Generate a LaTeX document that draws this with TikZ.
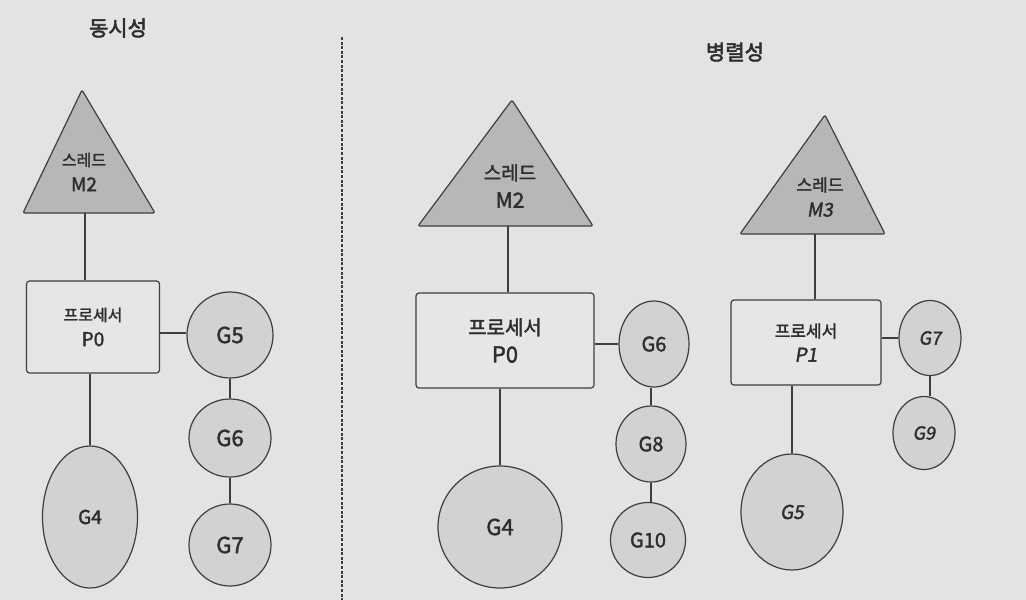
\documentclass[tikz,border=0pt]{standalone}
\usepackage{fontspec}
\setmainfont{Noto Sans CJK KR}[FakeBold=1.8]
\newfontfamily\slfont{Noto Sans CJK KR}[FakeBold=1.8,FakeSlant=0.16]
\newfontfamily\ttlfont{Noto Sans CJK KR}[FakeBold=2.6]
\usetikzlibrary{shapes.geometric,calc}
\definecolor{bgc}{HTML}{E4E2E2}
\definecolor{trifill}{HTML}{B8B7B7}
\definecolor{gfill}{HTML}{D3D2D2}
\definecolor{pfill}{HTML}{E7E6E6}
\definecolor{ink}{HTML}{3E3E3E}
\definecolor{txt}{HTML}{2E2E2E}
\newcommand{\fs}[1]{\fontsize{#1}{#1}\selectfont}
\tikzset{
  link/.style={draw=ink, line width=1.2pt},
  tri/.style={draw=ink, line width=1.2pt, fill=trifill, rounded corners=2pt},
  procbox/.style={draw=ink, line width=1.2pt, fill=pfill, rounded corners=3pt,
    rectangle, inner sep=0pt, align=center, text=txt},
  gor/.style={ellipse, draw=ink, line width=1.2pt, fill=gfill, inner sep=0pt,
    text=txt, font=\fs{#1}},
  lbl/.style={text=txt, align=center},
  ttl/.style={text=txt, font=\fs{21}\ttlfont},
}
\begin{document}
\begin{tikzpicture}[x=1pt,y=-1pt]
\useasboundingbox (0,0) rectangle (1026,600);
\fill[bgc] (0,0) rectangle (1026,600);

% titles
\node[ttl] (t1) at (118,28) {동시성};
\node[ttl] (t2) at (735,52) {병렬성};

% divider
\coordinate (dtop) at (342,37);
\coordinate (dbot) at (342,600);
\draw[ink, line width=1.1pt, dash pattern=on 3pt off 1.6pt] (dtop) -- (dbot);

% ===== left: concurrency =====
\draw[tri] (82,90) -- (155,213) -- (23,213) -- cycle;
\node[lbl] (m2a) at (84,172) {\fs{16}스레드\\[9pt]\fs{19}M2};
\coordinate (m2abase) at (85,213);
\node[procbox, minimum width=133pt, minimum height=92pt] (p0a) at (93,327) {\fs{16}프로세서\\[9pt]\fs{19}P0};
\node[gor=22, minimum width=86pt, minimum height=86pt] (g5a) at (230,335) {G5};
\node[gor=22, minimum width=82pt, minimum height=78pt] (g6a) at (230,438) {G6};
\node[gor=22, minimum width=82pt, minimum height=82pt] (g7a) at (230,545) {G7};
\node[gor=19, minimum width=95pt, minimum height=142pt] (g4a) at (90,517) {G4};
\draw[link] (m2abase) -- (m2abase |- p0a.north);
\draw[link] (p0a.east |- 0,333) -- (g5a.west |- 0,333);
\draw[link] (g5a.south) -- (g6a.north);
\draw[link] (g6a.south) -- (g7a.north);
\draw[link] (g4a.north |- p0a.south) -- (g4a.north);

% ===== middle: parallel M2/P0 =====
\draw[tri] (512,100) -- (593,226) -- (418,226) -- cycle;
\node[lbl] (m2b) at (510,186) {\fs{19}스레드\\[10pt]\fs{21}M2};
\coordinate (m2bbase) at (508,226);
\node[procbox, minimum width=178pt, minimum height=95pt] (p0b) at (505,340.5) {\fs{20}프로세서\\[9pt]\fs{22}P0};
\node[gor=20, minimum width=70pt, minimum height=86pt] (g6b) at (654,344) {G6};
\node[gor=20, minimum width=70pt, minimum height=76pt] (g8b) at (651,444) {G8};
\node[gor=20, minimum width=75pt, minimum height=75pt] (g10b) at (648,540) {G10};
\node[gor=22, minimum width=124pt, minimum height=122pt] (g4b) at (500,527) {G4};
\draw[link] (m2bbase) -- (m2bbase |- p0b.north);
\draw[link] (p0b.east |- g6b.west) -- (g6b.west);
\draw[link] (g8b.north |- g6b.south) -- (g8b.north);
\draw[link] (g8b.south) -- (g8b.south |- g10b.north);
\draw[link] (g4b.north |- p0b.south) -- (g4b.north);

% ===== right: parallel M3/P1 =====
\draw[tri] (825,115) -- (885,234) -- (740,234) -- cycle;
\node[lbl] (m3) at (820,197) {\fs{17}스레드\\[9pt]\fs{19}\slfont M3};
\coordinate (m3base) at (815,234);
\node[procbox, minimum width=150pt, minimum height=85pt] (p1) at (806,342.5) {\fs{17}프로세서\\[8pt]\fs{19}\slfont P1};
\node[gor=18, minimum width=62pt, minimum height=75pt] (g7c) at (930,338) {\slfont G7};
\node[gor=18, minimum width=62pt, minimum height=73pt] (g9c) at (924,433) {\slfont G9};
\node[gor=19, minimum width=102pt, minimum height=116pt] (g5c) at (792,512) {\slfont G5};
\draw[link] (m3base) -- (m3base |- p1.north);
\draw[link] (p1.east |- g7c.west) -- (g7c.west);
\draw[link] (g7c.south) -- (g7c.south |- g9c.north);
\draw[link] (g5c.north |- p1.south) -- (g5c.north);
\end{tikzpicture}
\end{document}
